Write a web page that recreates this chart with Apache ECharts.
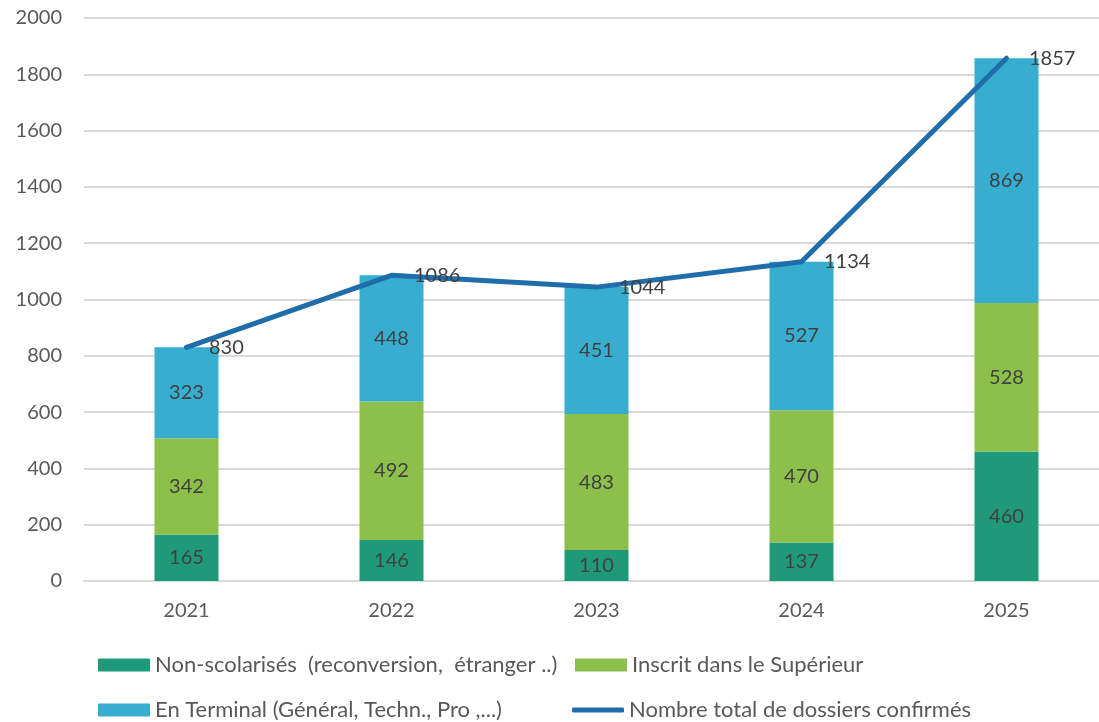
<!DOCTYPE html>
<html>
<head>
<meta charset="utf-8">
<script src="https://cdn.jsdelivr.net/npm/echarts@6/dist/echarts.min.js"></script>
<style>
  html, body { margin: 0; padding: 0; background: #fff; }
  #chart { width: 1099px; height: 722px; }
</style>
</head>
<body>
<div id="chart"></div>
<script>
const years = ["2021", "2022", "2023", "2024", "2025"];
const nonScolarises = [165, 146, 110, 137, 460];
const superieur = [342, 492, 483, 470, 528];
const terminal = [323, 448, 451, 527, 869];
const totalConfirmes = [830, 1086, 1044, 1134, 1857];

const names = [
  "Non-scolarisés  (reconversion,  étranger ..)",
  "Inscrit dans le Supérieur",
  "En Terminal (Général, Techn., Pro ,...)",
  "Nombre total de dossiers confirmés"
];

const font = "Lato, 'Open Sans', sans-serif";
const chart = echarts.init(document.getElementById("chart"));

const barLabel = {
  show: true,
  position: "inside",
  color: "#404040",
  fontSize: 20,
  fontFamily: font
};

function legendAt(name, left, top, icon, h) {
  return {
    data: [{ name: name, icon: icon }],
    left: left,
    top: top,
    itemWidth: 52,
    itemHeight: h || 13,
    padding: 0,
    textStyle: { color: "#595959", fontSize: 22, fontFamily: font },
    selectedMode: false
  };
}

const lineLegend = legendAt(names[3], 572, 699, "roundRect", 5);
lineLegend.itemStyle = { color: "#1f6dab", opacity: 1 };

const option = {
  backgroundColor: "#fff",
  animation: false,
  grid: {
    left: 84,
    right: -10,
    top: 18,
    bottom: 141,
    outerBoundsMode: "none"
  },
  legend: [
    legendAt(names[0], 98, 654, "rect"),
    legendAt(names[1], 575, 654, "rect"),
    legendAt(names[2], 98, 699, "rect"),
    lineLegend
  ],
  xAxis: {
    type: "category",
    data: years,
    axisLine: { lineStyle: { color: "#d9d9d9", width: 2 } },
    axisTick: { show: false },
    axisLabel: { color: "#595959", fontSize: 20, fontFamily: font, margin: 20 }
  },
  yAxis: {
    type: "value",
    min: 0,
    max: 2000,
    interval: 200,
    axisLine: { show: false },
    axisTick: { show: false },
    axisLabel: {
      color: "#595959", fontSize: 20, fontFamily: font, margin: 22,
      formatter: function (v) { return String(v); }
    },
    splitLine: { lineStyle: { color: "#d9d9d9", width: 2 } }
  },
  series: [
    {
      name: names[0],
      type: "bar",
      stack: "total",
      barWidth: 64,
      data: nonScolarises,
      itemStyle: { color: "#1f9a78" },
      label: barLabel
    },
    {
      name: names[1],
      type: "bar",
      stack: "total",
      data: superieur,
      itemStyle: { color: "#8cc04a" },
      label: barLabel
    },
    {
      name: names[2],
      type: "bar",
      stack: "total",
      data: terminal,
      itemStyle: { color: "#37aed0" },
      label: barLabel
    },
    {
      name: names[3],
      type: "line",
      data: totalConfirmes,
      symbol: "circle",
      symbolSize: 1,
      showSymbol: true,
      z: 5,
      lineStyle: { color: "#1f6dab", width: 5, cap: "round", join: "round" },
      itemStyle: { color: "#1f6dab", opacity: 0 },
      label: {
        show: true,
        position: "right",
        distance: 22,
        color: "#404040",
        fontSize: 20,
        fontFamily: font,
        opacity: 1
      }
    }
  ]
};

chart.setOption(option);
</script>
</body>
</html>
